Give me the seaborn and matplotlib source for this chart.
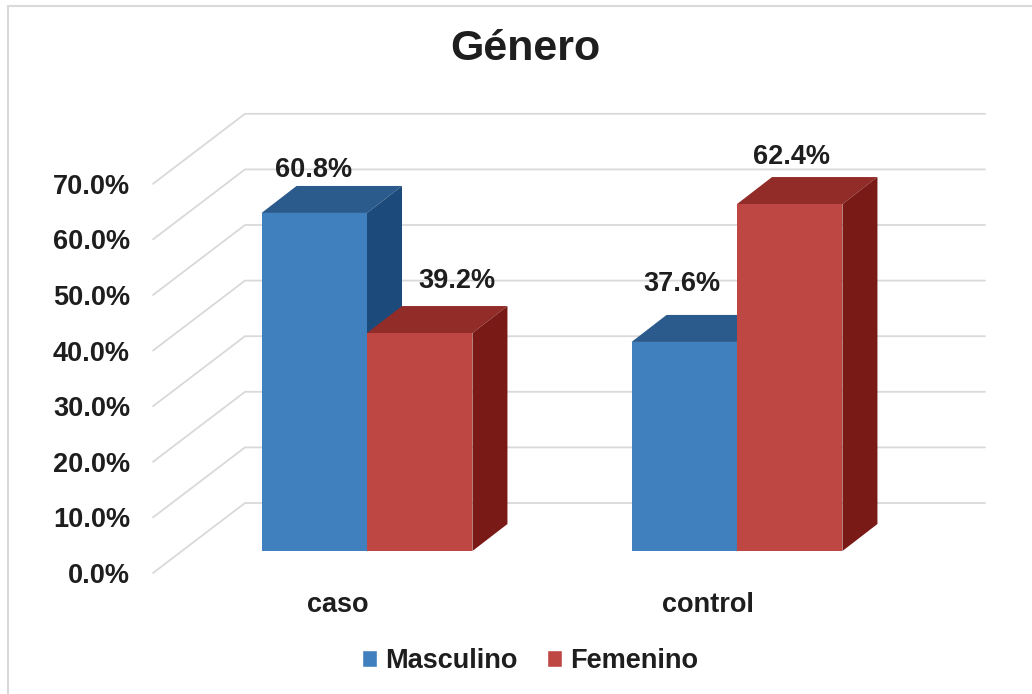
import pandas as pd
import matplotlib.pyplot as plt
import seaborn as sns
from matplotlib.patches import Polygon, Rectangle
from matplotlib.transforms import ScaledTranslation

grupos = ['caso', 'control']
sexos = ['Masculino', 'Femenino']
masculino = [60.8, 37.6]
femenino = [39.2, 62.4]
yticks = [0, 10, 20, 30, 40, 50, 60, 70]

df = pd.DataFrame({
    'grupo': grupos + grupos,
    'sexo': [sexos[0]] * 2 + [sexos[1]] * 2,
    'pct': masculino + femenino,
})

# front / top / side shades for each series
front = {'Masculino': '#4080BF', 'Femenino': '#BF4743'}
top = {'Masculino': '#2B5B8C', 'Femenino': '#922C29'}
side = {'Masculino': '#1C4A7A', 'Femenino': '#791A17'}
# label nudges in pixels (Excel moved them around)
label_off = {('caso', 'Masculino'): (-1, 43), ('caso', 'Femenino'): (37, 52),
             ('control', 'Masculino'): (-2, 58), ('control', 'Femenino'): (2, 47)}

sns.set_theme(style='white')
plt.rcParams['font.family'] = ['Liberation Sans', 'DejaVu Sans']
plt.rcParams['font.weight'] = 'bold'
txt = '#1E1E1E'
fs = 19.5

fig = plt.figure(figsize=(10.32, 6.94), dpi=100)
W, H = 1032, 694
ax = fig.add_axes([182 / W, (H - 551) / H, 740 / W, 444.8 / H])

sns.barplot(data=df, x='grupo', y='pct', hue='sexo', order=grupos, hue_order=sexos,
            palette=[front[s] for s in sexos], width=0.57, saturation=1,
            errorbar=None, ax=ax, legend=True, zorder=3)
ax.set_xlim(-0.5, 1.5)
ax.set_ylim(0, 80)
sns.despine(ax=ax, left=True, bottom=True)
ax.set_xlabel('')
ax.set_ylabel('')

px_x = 740 / 2.0
px_y = 444.8 / 80.0

# back wall + floor gridlines
fdx, fdy = -29 / px_x, -22 / px_y
bdx, bdy = 63 / px_x, 48 / px_y
for v in yticks:
    ax.plot([-0.5 + fdx, -0.5 + bdx, 1.5 + bdx], [v + fdy, v + bdy, v + bdy],
            color='#D9D9D9', lw=1.3, zorder=0.5, clip_on=False)

# 3d faces for the bars
ddx, ddy = 35 / px_x, 27 / px_y
bars = []
for cont, s in zip(ax.containers, sexos):
    for rect, g in zip(cont, grupos):
        bars.append((rect, s, g))
bars.sort(key=lambda b: b[0].get_x())
for i, (rect, s, g) in enumerate(bars):
    x0, w, h = rect.get_x(), rect.get_width(), rect.get_height()
    z = 2 + 2 * i
    ax.add_patch(Polygon([(x0, h), (x0 + w, h), (x0 + w + ddx, h + ddy), (x0 + ddx, h + ddy)],
                         closed=True, facecolor=top[s], edgecolor='none', zorder=z, clip_on=False))
    ax.add_patch(Polygon([(x0 + w, 0), (x0 + w, h), (x0 + w + ddx, h + ddy), (x0 + w + ddx, ddy)],
                         closed=True, facecolor=side[s], edgecolor='none', zorder=z, clip_on=False))
    rect.set_zorder(z + 1)
    rect.set_edgecolor('none')
    dx, dy = label_off[(g, s)]
    ax.annotate(f'{h:.1f}%', (x0 + w / 2, h), xytext=(dx, dy), textcoords='offset pixels',
                ha='center', va='center', fontsize=fs, fontweight='bold', color=txt, zorder=20)

# ticks live on the front plane
ax.set_yticks(yticks)
ax.set_yticklabels([f'{v:.1f}%' for v in yticks])
ax.tick_params(axis='y', length=0, pad=16.5, labelsize=fs, labelcolor=txt)
ax.tick_params(axis='x', length=0, pad=14, labelsize=fs, labelcolor=txt)
shift = ScaledTranslation(-29 / 100, -22 / 100, fig.dpi_scale_trans)
for lab in ax.get_yticklabels() + ax.get_xticklabels():
    lab.set_transform(lab.get_transform() + shift)
    lab.set_fontweight('bold')

handles, labels = ax.get_legend_handles_labels()
ax.get_legend().remove()
fig.legend(handles, labels, loc='center', bbox_to_anchor=(530 / W, 1 - 661 / H), ncol=2,
           frameon=False, prop={'size': fs, 'weight': 'bold'}, handlelength=0.55,
           handleheight=0.55, handletextpad=0.3, columnspacing=1.1, labelcolor=txt)

fig.text(525 / W, 1 - 49 / H, 'Género', ha='center', va='center', fontsize=31,
         fontweight='bold', color=txt)

fig.patches.append(Rectangle((8 / W, -0.1), 1.2, (H - 6) / H + 0.1, transform=fig.transFigure,
                             fill=False, edgecolor='#D9D9D9', lw=1.5))

fig.savefig('out.png', dpi=100)
